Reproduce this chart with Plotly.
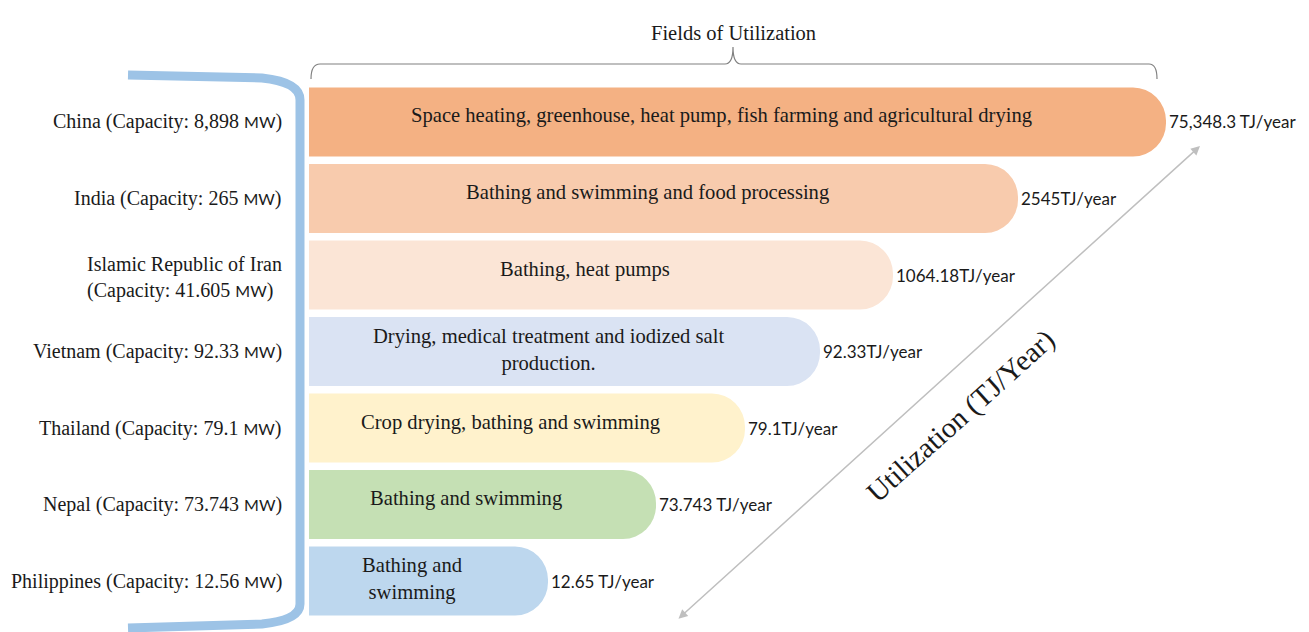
import plotly.graph_objects as go

W, H = 1309, 632

# data (bar lengths are the schematic lengths of the infographic)
countries = ["China", "India", "Islamic Republic of Iran", "Vietnam",
             "Thailand", "Nepal", "Philippines"]
capacity = ["8,898", "265", "41.605", "92.33", "79.1", "73.743", "12.56"]
utilization = ["75,348.3 TJ/year", "2545TJ/year", "1064.18TJ/year", "92.33TJ/year",
               "79.1TJ/year", "73.743 TJ/year", "12.65 TJ/year"]
fields = [
    "Space heating, greenhouse, heat pump, fish farming and agricultural drying",
    "Bathing and swimming and food processing",
    "Bathing, heat pumps",
    "Drying, medical treatment and iodized salt<br>production.",
    "Crop drying, bathing and swimming",
    "Bathing and swimming",
    "Bathing and<br>swimming",
]
bar_length = [857, 709, 584, 511, 436, 347, 239]
colors = ["#F4B183", "#F8CBAD", "#FBE5D6", "#DAE3F3", "#FFF2CC", "#C5E0B4", "#BDD7EE"]

SERIF = "Liberation Serif"
SANS = "Lato"
RADIUS = 33
INK = "#1a1a1a"


def px(x):
    return x / W


def py(y):
    return 1 - y / H


fig = go.Figure()
fig.add_trace(go.Bar(
    y=countries,
    x=bar_length,
    orientation="h",
    marker=dict(color=colors, line=dict(width=0), cornerradius=RADIUS),
    hoverinfo="skip",
))

ann = []
for c, cap, u, f, L in zip(countries, capacity, utilization, fields, bar_length):
    # text inside the bar
    ann.append(dict(
        x=(L - RADIUS) / 2, y=c, xref="x", yref="y", text=f, showarrow=False,
        font=dict(family=SERIF, size=20.6, color=INK),
        yshift=2 if "<br>" in f else 6,
    ))
    # value at the end of the bar
    ann.append(dict(
        x=L, y=c, xref="x", yref="y", text=u, showarrow=False, xanchor="left",
        xshift=1, font=dict(family=SANS, size=17, color=INK),
    ))
    # country label on the left
    mw = f"<span style='font-family:{SANS};font-size:16px'>MW</span>"
    if c == "Islamic Republic of Iran":
        label = f"{c}<br>(Capacity: {cap} {mw})"
    else:
        label = f"{c} (Capacity: {cap} {mw})"
    ann.append(dict(
        x=px(284), y=c, xref="paper", yref="y", text=label, showarrow=False,
        xanchor="right", align="left", yshift=-2 if "<br>" in label else 0,
        font=dict(family=SERIF, size=20, color=INK),
    ))

ann.append(dict(
    x=px(733), y=py(20), xref="paper", yref="paper", text="Fields of Utilization",
    showarrow=False, xanchor="center", font=dict(family=SERIF, size=20.5, color=INK),
))
# double headed arrow along the diagonal
ann.append(dict(
    x=px(1200), y=py(146), xref="paper", yref="paper",
    ax=677 - 1200, ay=620 - 146, axref="pixel", ayref="pixel",
    text="", showarrow=True, arrowside="end+start",
    arrowhead=2, arrowsize=1.2, arrowwidth=1.5, arrowcolor="#BFBFBF",
))
ann.append(dict(
    x=px(960), y=py(416), xref="paper", yref="paper", text="Utilization (TJ/Year)",
    showarrow=False, xanchor="center", yanchor="middle", textangle=-42,
    font=dict(family=SERIF, size=29, color=INK),
))

bracket = (f"M {px(128)},{py(75)} L {px(262)},{py(78)} "
           f"Q {px(300)},{py(82)} {px(300)},{py(100)} "
           f"L {px(300)},{py(604)} Q {px(300)},{py(620)} {px(262)},{py(624)} "
           f"L {px(128)},{py(628)}")
brace = (f"M {px(311)},{py(79)} Q {px(311)},{py(64)} {px(320)},{py(64)} "
         f"L {px(725)},{py(64)} Q {px(733)},{py(64)} {px(733)},{py(47)} "
         f"Q {px(733)},{py(64)} {px(741)},{py(64)} "
         f"L {px(1149)},{py(64)} Q {px(1157)},{py(64)} {px(1157)},{py(79)}")

shapes = [
    dict(type="path", path=bracket, xref="paper", yref="paper",
         line=dict(color="#9DC3E6", width=9)),
    dict(type="path", path=brace, xref="paper", yref="paper",
         line=dict(color="#808080", width=1.2)),
]

n = len(countries)
fig.update_layout(
    width=W, height=H,
    margin=dict(l=0, r=0, t=0, b=0),
    paper_bgcolor="white", plot_bgcolor="white",
    showlegend=False,
    bargap=0.1,
    xaxis=dict(range=[-309, W - 309], domain=[0, 1], visible=False, fixedrange=True),
    yaxis=dict(domain=[py(619.25), py(83.75)], range=[n - 0.5, -0.5],
               visible=False, fixedrange=True),
    annotations=ann,
    shapes=shapes,
)

# drop the default page margin so the figure sits at the window corner
fig.write_html("out.html", config={"displayModeBar": False},
               post_script="document.body.style.margin='0';")
